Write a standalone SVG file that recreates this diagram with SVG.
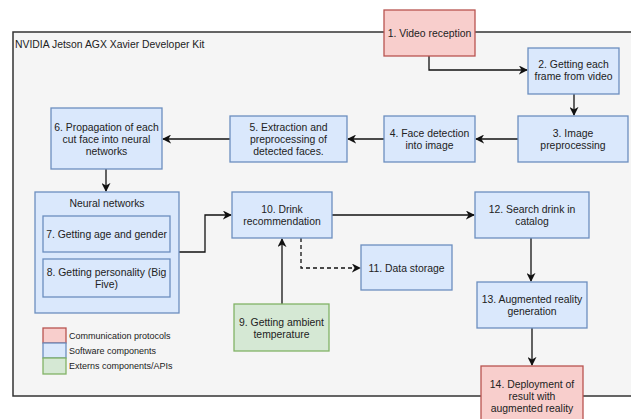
<svg xmlns="http://www.w3.org/2000/svg" width="631" height="419" viewBox="0 0 631 419">
<style>
text{font-family:"Liberation Sans",Arial,sans-serif;font-size:10.4px;fill:#222;text-anchor:middle}
.red{fill:#f8cecc;stroke:#b85450;stroke-width:1.3}
.blue{fill:#dae8fc;stroke:#6c8ebf;stroke-width:1.3}
.green{fill:#d5e8d4;stroke:#82b366;stroke-width:1.3}
.c{fill:none;stroke:#111;stroke-width:1.3}
.leg{font-size:9px;text-anchor:start}
</style>
<defs>
<marker id="ah" viewBox="0 0 10 10" refX="9" refY="5" markerWidth="9" markerHeight="9" markerUnits="userSpaceOnUse" orient="auto">
<path d="M0,0 L10,5 L0,10 L3,5 Z" fill="#111"/>
</marker>
</defs>
<rect width="631" height="419" fill="#ffffff"/>
<g id="container">
<rect x="13" y="32" width="630" height="364" fill="#f5f5f5" stroke="#333" stroke-width="1.5"/>
<text x="15" y="48" style="text-anchor:start">NVIDIA Jetson AGX Xavier Developer Kit</text>
</g>
<g id="connectors">
<path class="c" d="M429,56 V70 H527" marker-end="url(#ah)"/>
<path class="c" d="M574,94 V115" marker-end="url(#ah)"/>
<path class="c" d="M518,139 H476" marker-end="url(#ah)"/>
<path class="c" d="M384,139 H348" marker-end="url(#ah)"/>
<path class="c" d="M230,139 H163" marker-end="url(#ah)"/>
<path class="c" d="M106,169 V191" marker-end="url(#ah)"/>
<path class="c" d="M179,252 H205 V215 H231" marker-end="url(#ah)"/>
<path class="c" d="M332,215 H474" marker-end="url(#ah)"/>
<path class="c" d="M301,238 V268 H360" stroke-dasharray="4,3" marker-end="url(#ah)"/>
<path class="c" d="M282,304 V239" marker-end="url(#ah)"/>
<path class="c" d="M531,238 V281" marker-end="url(#ah)"/>
<path class="c" d="M532,328 V365" marker-end="url(#ah)"/>
</g>
<g id="n1"><rect class="red" x="384" y="10" width="91" height="46"/><text x="429.5" y="37">1. Video reception</text></g>
<g id="n2"><rect class="blue" x="528" y="48" width="91" height="46"/><text x="573.5" y="68">2. Getting each</text><text x="573.5" y="80">frame from video</text></g>
<g id="n3"><rect class="blue" x="518" y="116" width="110" height="46"/><text x="573" y="137">3. Image</text><text x="573" y="149">preprocessing</text></g>
<g id="n4"><rect class="blue" x="384" y="116" width="91" height="46"/><text x="429.5" y="137">4. Face detection</text><text x="429.5" y="149">into image</text></g>
<g id="n5"><rect class="blue" x="230" y="116" width="117" height="46"/><text x="288.5" y="131">5. Extraction and</text><text x="288.5" y="143">preprocessing of</text><text x="288.5" y="155">detected faces.</text></g>
<g id="n6"><rect class="blue" x="51" y="108" width="111" height="61"/><text x="106.5" y="131">6. Propagation of each</text><text x="106.5" y="143">cut face into neural</text><text x="106.5" y="155">networks</text></g>
<g id="nn"><rect class="blue" x="35" y="192" width="144" height="121"/><text x="107" y="207">Neural networks</text></g>
<g id="n7"><rect class="blue" x="43" y="216" width="127" height="36"/><text x="106.5" y="238">7. Getting age and gender</text></g>
<g id="n8"><rect class="blue" x="43" y="259" width="127" height="38"/><text x="106.5" y="276">8. Getting personality (Big</text><text x="106.5" y="288">Five)</text></g>
<g id="n10"><rect class="blue" x="232" y="192" width="100" height="46"/><text x="282" y="213">10. Drink</text><text x="282" y="225">recommendation</text></g>
<g id="n11"><rect class="blue" x="361" y="245" width="91" height="45"/><text x="406.5" y="272">11. Data storage</text></g>
<g id="n12"><rect class="blue" x="475" y="192" width="114" height="46"/><text x="532" y="213">12. Search drink in</text><text x="532" y="225">catalog</text></g>
<g id="n9"><rect class="green" x="234" y="304" width="95" height="47"/><text x="281.5" y="326">9. Getting ambient</text><text x="281.5" y="338">temperature</text></g>
<g id="n13"><rect class="blue" x="477" y="282" width="110" height="46"/><text x="532" y="303">13. Augmented reality</text><text x="532" y="315">generation</text></g>
<g id="n14"><rect class="red" x="481" y="366" width="102" height="70"/><text x="532" y="388">14. Deployment of</text><text x="532" y="400">result with</text><text x="532" y="412">augmented reality</text></g>
<g id="legend">
<rect class="red" x="43" y="328" width="23" height="15"/>
<rect class="blue" x="43" y="343" width="23" height="15"/>
<rect class="green" x="43" y="358" width="23" height="16"/>
<text class="leg" x="69" y="339">Communication protocols</text>
<text class="leg" x="69" y="354">Software components</text>
<text class="leg" x="69" y="369">Externs components/APIs</text>
</g>
</svg>
